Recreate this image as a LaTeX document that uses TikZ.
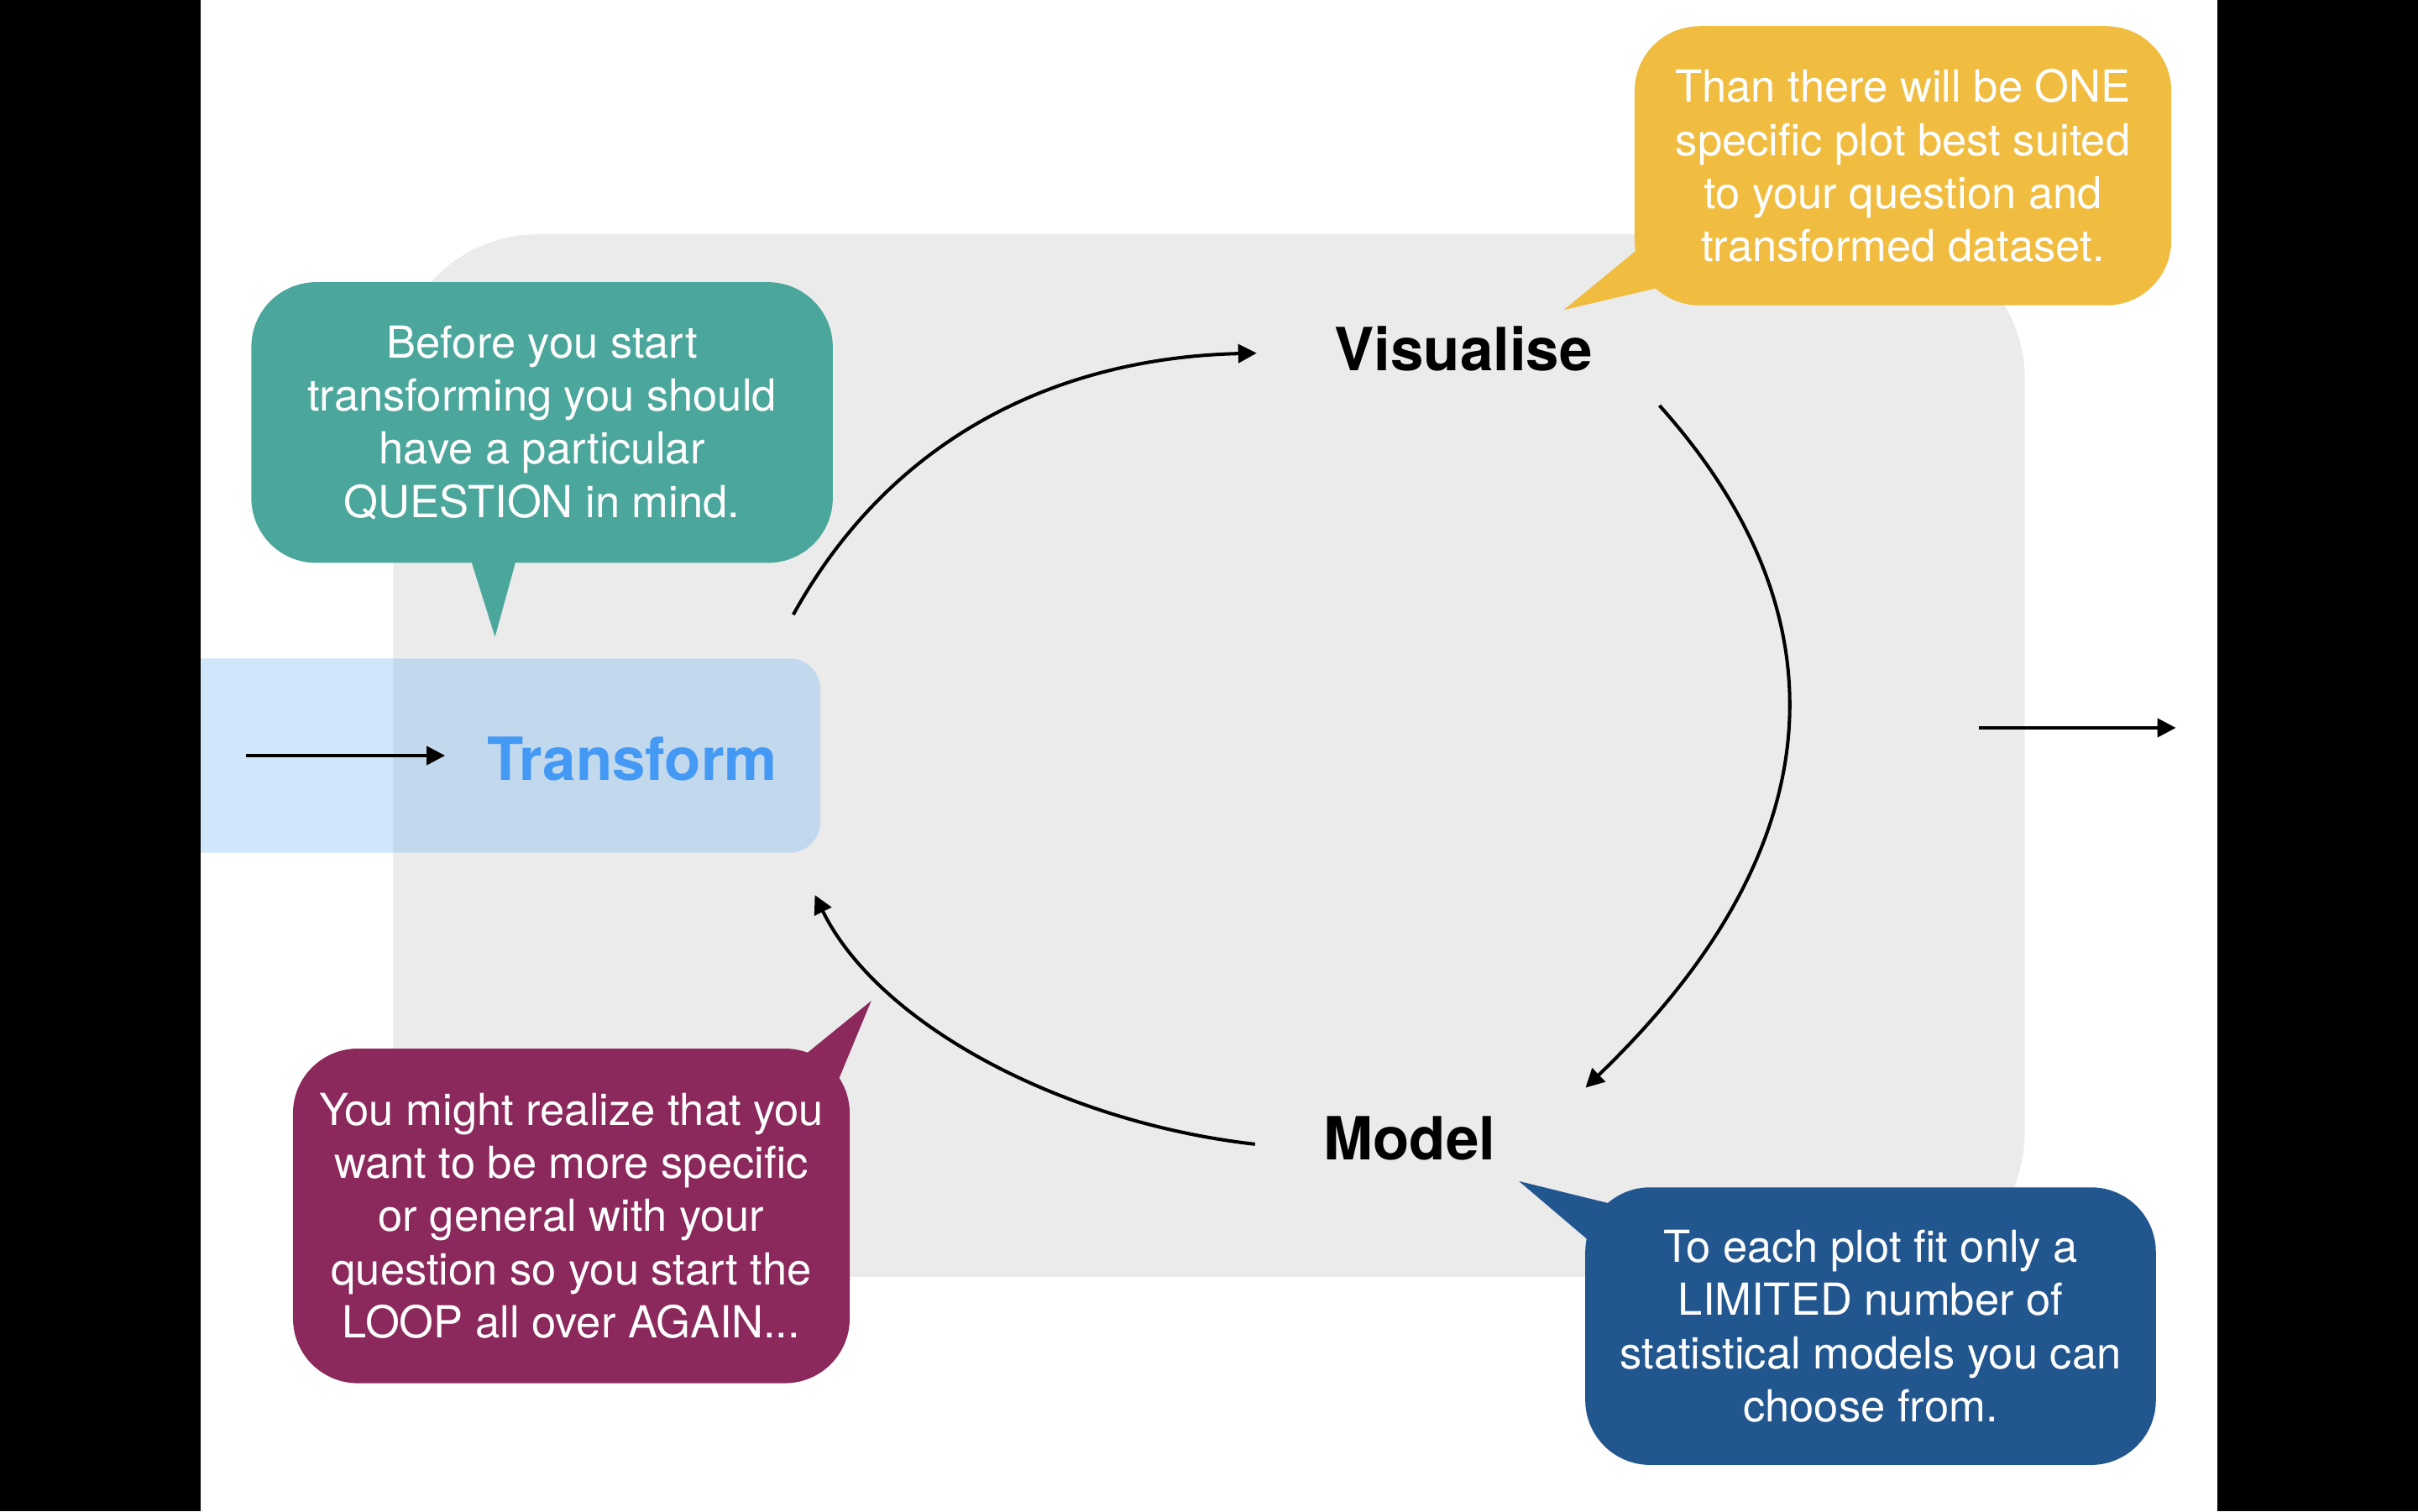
\documentclass[tikz,border=0pt]{standalone}
\usepackage{fontspec}
\setmainfont{TeX Gyre Heros}
\usetikzlibrary{arrows.meta,positioning}
\definecolor{loopgray}{HTML}{EBEBEB}
\definecolor{boxblue}{RGB}{102,175,242}
\definecolor{transformblue}{HTML}{4499F5}
\definecolor{questionteal}{HTML}{4BA69C}
\definecolor{plotyellow}{HTML}{F0BD41}
\definecolor{loopplum}{HTML}{8B285C}
\definecolor{modelblue}{HTML}{22568F}
\tikzset{
    bubble/.style={rectangle, rounded corners=21pt, text=white, align=center, inner sep=0pt, font=\fontsize{14.3}{17.25}\selectfont},
    stage/.style={rectangle, inner sep=0pt, font=\fontsize{19.3}{23}\selectfont\bfseries},
    pil/.style={-{Triangle[length=6pt,width=6pt]}, line width=1.1pt}
}

\begin{document}
\begin{tikzpicture}[x=0.5pt, y=-0.5pt]
    \useasboundingbox (0,0) rectangle (1568,980);
    \fill[white] (130,0) rectangle (1438,980);
    \fill[loopgray, rounded corners=47pt] (255,152) rectangle (1313,828);
    % stages
    \node[rectangle, rounded corners=10pt, fill=boxblue, fill opacity=0.3, minimum width=211pt, minimum height=63pt] (transformbox) at (321,490) {};
    \node[stage, text=transformblue] (transform) at (410,492) {Transform};
    \node[stage] (visualise) at (949,226) {Visualise};
    \node[stage] (model) at (914,738) {Model};
    % speech bubbles
    \node[bubble, fill=questionteal, minimum width=188.5pt, minimum height=91pt] (question) at (351.5,274)
      {Before you start\\transforming you should\\have a particular\\QUESTION in mind.};
    \fill[questionteal] (305,362) -- (321,413) -- (335,362) -- cycle;
    \node[bubble, fill=plotyellow, minimum width=174pt, minimum height=90.5pt] (plot) at (1234,107.5)
      {Than there will be ONE\\specific plot best suited\\to your question and\\transformed dataset.};
    \fill[plotyellow] (1064,160) -- (1014,201) -- (1078,186) -- cycle;
    \node[bubble, fill=loopplum, minimum width=180.5pt, minimum height=108.5pt] (again) at (370.5,788.5)
      {You might realize that you\\want to be more specific\\or general with your\\question so you start the\\LOOP all over AGAIN...};
    \fill[loopplum] (522,684) -- (565,649) -- (543,702) -- cycle;
    \node[bubble, fill=modelblue, minimum width=185pt, minimum height=90pt] (limited) at (1213,860)
      {To each plot fit only a\\LIMITED number of\\statistical models you can\\choose from.};
    \fill[modelblue] (1046,781) -- (985,766) -- (1032,806) -- cycle;
    % loop arrows
    \draw[pil] ([shift={(50,0)}]transformbox.west) -- ([shift={(-27,-2)}]transform.west);
    \draw[pil] ([shift={(-18,-28)}]transformbox.north east) .. controls (580,280) and (690,232) .. ([shift={(-50,3)}]visualise.west);
    \draw[pil] ([shift={(43,22)}]visualise.south east) .. controls (1190,390) and (1200,540) .. ([shift={(58,-18)}]model.north east);
    \draw[pil] ([shift={(-44,4)}]model.west) .. controls (690,728) and (570,665) .. ([shift={(-4,27)}]transformbox.south east);
    \coordinate (exitstart) at (1283,472);
    \coordinate (exitend) at (1411,472);
    \draw[pil] (exitstart) -- (exitend);
    \fill[black] (0,0) rectangle (130,980);
    \fill[black] (1438,0) rectangle (1568,980);
\end{tikzpicture}
\end{document}
